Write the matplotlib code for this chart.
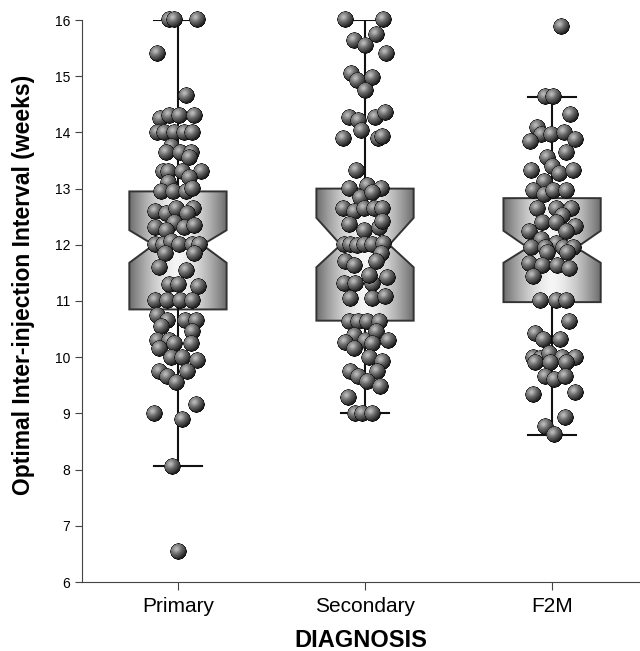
import numpy as np
import matplotlib.pyplot as plt
from matplotlib.offsetbox import OffsetImage, AnnotationBbox

plt.rcParams['font.family'] = ['Liberation Sans', 'DejaVu Sans']

categories = ['Primary', 'Secondary', 'F2M']

# box statistics (weeks)
medians = [12.0, 12.0, 11.95]
q1 = [10.85, 10.65, 10.98]
q3 = [12.95, 13.0, 12.83]
whisker_low = [8.06, 9.0, 8.62]
whisker_high = [16.0, 16.0, 14.63]
notch_low = [11.68, 11.6, 11.68]
notch_high = [12.26, 12.48, 12.25]

# individual patients (weeks)
primary_values = [
    16.0, 16.0, 16.0, 15.4, 14.65, 14.25, 14.3, 14.3, 14.3,
    14.0, 14.0, 14.0, 14.0, 14.0, 13.75, 13.65, 13.65, 13.65, 13.55,
    13.3, 13.3, 13.3, 13.3, 13.2, 13.1, 12.95, 12.95, 12.95, 13.0,
    12.6, 12.55, 12.65, 12.65, 12.55, 12.3, 12.4, 12.3, 12.35, 12.25,
    12.0, 12.0, 12.05, 12.0, 12.0, 12.0, 11.85, 11.85, 11.6, 11.55,
    11.3, 11.3, 11.25, 11.0, 11.0, 11.0, 11.0,
    10.75, 10.65, 10.65, 10.65, 10.55, 10.45, 10.3, 10.3, 10.25, 10.25, 10.15,
    10.0, 10.0, 9.95, 9.75, 9.75, 9.65, 9.55, 9.15, 9.0, 8.9, 8.05, 6.55,
]
secondary_values = [
    16.0, 16.0, 15.75, 15.64, 15.55, 15.41, 15.04, 14.93, 14.97, 14.74,
    14.27, 14.27, 14.22, 14.36, 14.03, 13.9, 13.9, 13.93, 13.32,
    13.0, 13.05, 13.0, 12.85, 12.93, 12.65, 12.6, 12.65, 12.65, 12.65,
    12.37, 12.26, 12.3, 12.42, 12.0, 12.0, 11.98, 12.0, 12.0, 12.02, 11.85,
    11.7, 11.7, 11.64, 11.32, 11.32, 11.32, 11.46, 11.42, 11.05, 11.05, 11.08,
    10.64, 10.64, 10.64, 10.64, 10.38, 10.3, 10.45, 10.3, 10.27, 10.16, 10.25,
    10.0, 9.93, 9.75, 9.75, 9.65, 9.56, 9.48, 9.29, 9.0, 9.0, 9.0,
]
f2m_values = [
    15.88, 14.63, 14.63, 14.31, 14.09, 13.97, 13.97, 13.99, 13.88, 13.83,
    13.65, 13.56, 13.4, 13.27, 13.32, 13.32, 13.12, 12.97, 12.89, 12.97, 12.97,
    12.65, 12.65, 12.65, 12.53, 12.4, 12.4, 12.23, 12.32, 12.23,
    12.1, 12.03, 11.96, 11.96, 11.96, 11.96, 11.87, 11.87,
    11.66, 11.64, 11.64, 11.57, 11.43, 11.0, 11.0, 11.0,
    10.64, 10.43, 10.32, 10.32, 10.0, 9.97, 10.07, 10.0, 10.0, 9.9, 9.9, 9.9,
    9.65, 9.61, 9.65, 9.33, 9.37, 8.93, 8.76, 8.62,
]

# horizontal scatter of the dots, in pixels from the box centre
primary_jitter = [
    -8, -3, 20, -20, 9, -17, -8, 2, 17,
    -20, -13, -3, 7, 15, -6, -11, 3, 14, 12,
    -14, -9, 5, 24, 12, -9, -16, -4, 9, 15,
    -22, -11, -1, 16, 10, -22, -3, 7, 17, -11,
    -22, -14, -6, 2, 15, 22, -12, 17, -18, 9,
    -8, 1, 21, -22, -10, 3, 15,
    -20, -10, 8, 19, -16, 15, -20, -8, -3, 14, -18,
    -6, 5, 20, -18, 10, -10, -1, 19, -23, 5, -5, 1,
]
secondary_jitter = [
    -20, 18, 11, -11, 0, 21, -14, -8, 7, 0,
    -16, 10, -7, 20, -4, -22, 13, 17, -9,
    -16, 2, 16, -5, 7, -22, -11, -1, 9, 17,
    -16, -1, 14, 17, -21, -15, -8, -1, 7, 18, 16,
    -20, 11, -11, -21, -10, 7, 4, 22, -15, 7, 20,
    -16, -7, 2, 14, -11, 0, 11, 23, -20, -11, 7,
    4, 17, -15, 12, -7, 2, 15, -17, -10, -3, 7,
]
f2m_jitter = [
    9, -7, 1, 18, -15, -11, -1, 12, 23, -22,
    14, -5, 0, 7, -21, 21, -8, -19, -8, 1, 14,
    -15, 4, 19, 10, -10, 4, -23, 23, 14,
    -11, 4, -21, -7, 11, 21, 15, -5,
    -23, -10, 5, 17, -19, -12, 4, 14,
    17, -17, -9, 8, -19, -12, -3, 10, 23, -17, -2, 14,
    -7, 2, 13, -19, 23, 13, -7, 2,
]

group_values = [primary_values, secondary_values, f2m_values]
group_jitter = [primary_jitter, secondary_jitter, f2m_jitter]
positions = [1, 2, 3]
box_width = 0.52
px_per_unit = 187.0


def make_ball(n=64):
    # small shaded sphere used as the dot marker
    yy, xx = np.mgrid[-1:1:n * 1j, -1:1:n * 1j]
    r = np.sqrt(xx ** 2 + yy ** 2)
    z = np.sqrt(np.clip(1 - r ** 2, 0, 1))
    nx, ny, nz = xx, -yy, z
    L = np.array([-0.4, 0.5, 0.77])
    L = L / np.linalg.norm(L)
    H = L + np.array([0, 0, 1.0])
    H = H / np.linalg.norm(H)
    diff = np.clip(nx * L[0] + ny * L[1] + nz * L[2], 0, 1)
    spec = np.clip(nx * H[0] + ny * H[1] + nz * H[2], 0, 1) ** 12
    g = 0.13 + 0.40 * diff + 0.22 * spec
    g = np.where(r > 0.88, g * 0.4, g)
    g = np.clip(g, 0, 1)
    alpha = np.clip((1 - r) * n / 2, 0, 1)
    return np.dstack([g, g, g, alpha])


fig = plt.figure(figsize=(6.4, 6.51), dpi=100)
ax = fig.add_axes([82 / 640, 69 / 651, 558 / 640, 562 / 651])

stats = []
for i in range(3):
    stats.append(dict(med=medians[i], q1=q1[i], q3=q3[i],
                      whislo=whisker_low[i], whishi=whisker_high[i],
                      cilo=notch_low[i], cihi=notch_high[i], fliers=[]))

bp = ax.bxp(stats, positions=positions, widths=box_width, shownotches=True,
            patch_artist=True, showfliers=False, capwidths=0.26,
            boxprops=dict(facecolor='none', edgecolor='#333333', linewidth=1.4),
            whiskerprops=dict(color='#111111', linewidth=1.5),
            capprops=dict(color='#111111', linewidth=1.5),
            medianprops=dict(linewidth=0))

# horizontal grey gradient inside each box
t = np.linspace(-1, 1, 200)
shade = 0.42 + 0.54 * (1 - np.abs(t) ** 1.6)
grad = np.tile(shade, (2, 1))
for i, patch in enumerate(bp['boxes']):
    im = ax.imshow(grad, extent=[positions[i] - box_width / 2, positions[i] + box_width / 2,
                                 q1[i], q3[i]],
                   cmap='gray', vmin=0, vmax=1, aspect='auto', zorder=1.9,
                   interpolation='bilinear')
    im.set_clip_path(patch)

ball = make_ball(64)
zoom = 17 / (64 * 100 / 72)
for i in range(3):
    for v, j in zip(group_values[i], group_jitter[i]):
        ab = AnnotationBbox(OffsetImage(ball, zoom=zoom), (positions[i] + j / px_per_unit, v),
                            frameon=False, pad=0, zorder=3, annotation_clip=False)
        ax.add_artist(ab)

ax.set_xlim(0.487, 3.47)
ax.set_ylim(6, 16)
ax.set_yticks(np.arange(6, 17, 1))
ax.set_xticks(positions)
ax.set_xticklabels(categories, fontsize=15)
ax.tick_params(axis='y', labelsize=10, direction='out', length=5, color='#444444')
ax.tick_params(axis='x', direction='out', length=6, color='#444444', pad=5)
ax.spines['top'].set_visible(False)
ax.spines['right'].set_visible(False)
ax.spines['left'].set_color('#444444')
ax.spines['bottom'].set_color('#444444')
ax.set_ylabel('Optimal Inter-injection Interval (weeks)', fontsize=16.5, fontweight='bold')
ax.yaxis.set_label_coords(-0.085, 0.528)
ax.set_xlabel('DIAGNOSIS', fontsize=17, fontweight='bold', labelpad=9)

fig.savefig('out.png', dpi=100)
